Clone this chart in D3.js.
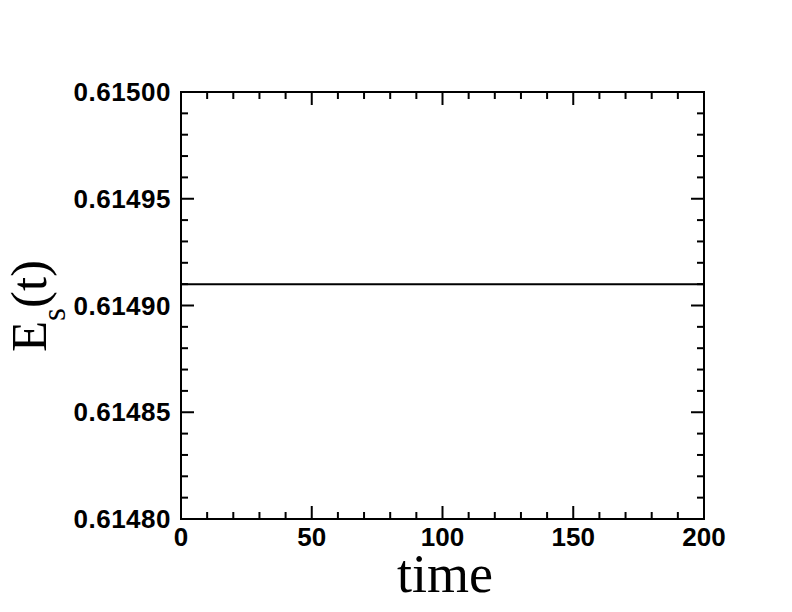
<!DOCTYPE html>
<html><head><meta charset="utf-8">
<script src="https://cdn.jsdelivr.net/npm/d3@7"></script>
<style>body{margin:0;background:#fff}</style>
</head><body>
<script>
const times = [0, 200];
const energy = [0.61491, 0.61491];
const xTicks = [0, 50, 100, 150, 200];
const yTicks = [0.6148, 0.61485, 0.6149, 0.61495, 0.615];

const W = 792, H = 612;
const m = {l: 181, r: 704, t: 92, b: 519};
const svg = d3.select("body").append("svg").attr("width", W).attr("height", H);
svg.append("rect").attr("width", W).attr("height", H).attr("fill", "#fff");

const x = d3.scaleLinear().domain([0, 200]).range([m.l, m.r]);
const y = d3.scaleLinear().domain([0.6148, 0.615]).range([m.b, m.t]);

const g = svg.append("g");
const minorX = d3.range(0, 201, 10);
const minorY = d3.range(0, 21).map(i => 0.6148 + i * 0.00001);

function tk(x1, y1, x2, y2) {
  g.append("line").attr("x1", x1).attr("y1", y1).attr("x2", x2).attr("y2", y2)
    .attr("stroke", "#000").attr("stroke-width", 2);
}
minorX.forEach(v => {
  const L = v % 50 === 0 ? 13 : 7;
  tk(x(v), m.b, x(v), m.b - L);
  tk(x(v), m.t, x(v), m.t + L);
});
minorY.forEach((v, i) => {
  const L = i % 5 === 0 ? 13 : 7;
  tk(m.l, y(v), m.l + L, y(v));
  tk(m.r, y(v), m.r - L, y(v));
});

g.append("rect").attr("x", m.l).attr("y", m.t).attr("width", m.r - m.l).attr("height", m.b - m.t)
  .attr("fill", "none").attr("stroke", "#000").attr("stroke-width", 2);

const data = times.map((t, i) => [t, energy[i]]);
g.append("path").datum(data)
  .attr("d", d3.line().x(d => x(d[0])).y(d => y(d[1])))
  .attr("fill", "none").attr("stroke", "#000").attr("stroke-width", 2);

const lf = "'Liberation Sans', Arial, sans-serif";
xTicks.forEach(v => {
  svg.append("text").attr("x", x(v)).attr("y", 546).attr("text-anchor", "middle")
    .attr("font-family", lf).attr("font-weight", "bold").attr("font-size", 26).text(v);
});
yTicks.forEach(v => {
  svg.append("text").attr("x", 171).attr("y", y(v) + 9).attr("text-anchor", "end")
    .attr("font-family", lf).attr("font-weight", "bold").attr("font-size", 26)
    .attr("letter-spacing", 0.5).text(v.toFixed(5));
});

const sf = "'Liberation Serif', 'Times New Roman', serif";
svg.append("text").attr("x", 445).attr("y", 592).attr("text-anchor", "middle")
  .attr("font-family", sf).attr("font-size", 54).text("time");
const yt = svg.append("text").attr("transform", "translate(46,306) rotate(-90)")
  .attr("text-anchor", "middle").attr("font-family", sf).attr("font-size", 51);
yt.append("tspan").text("E");
yt.append("tspan").attr("font-size", 33).attr("dy", 19).text("s");
yt.append("tspan").attr("dy", -19).text("(t)");
</script>
</body></html>
